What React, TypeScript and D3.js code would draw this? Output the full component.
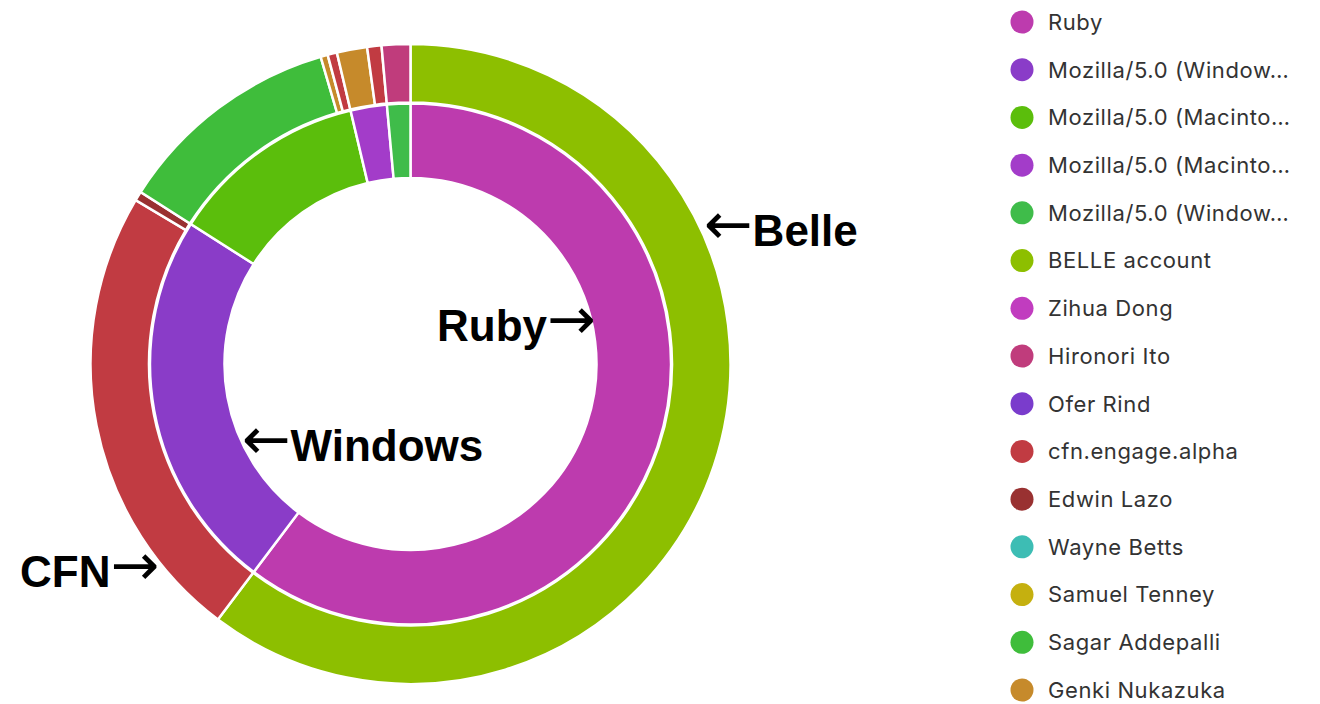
import React from "react";
import * as d3 from "d3";

// Inner ring: user agents
const agentNames = [
  "Ruby",
  "Mozilla/5.0 (Windows) A",
  "Mozilla/5.0 (Macintosh) A",
  "Mozilla/5.0 (Macintosh) B",
  "Mozilla/5.0 (Windows) B",
];
const agentValues = [217, 85.5, 44.2, 8.1, 5.2];

// Outer ring: users per agent (in agent order)
const userNames = [
  "BELLE account",
  "cfn.engage.alpha",
  "Edwin Lazo",
  "Sagar Addepalli",
  "Genki Nukazuka",
  "cfn.engage.alpha",
  "Genki Nukazuka",
  "cfn.engage.alpha",
  "Hironori Ito",
];
const userValues = [217, 83.8, 1.7, 41.2, 1.3, 1.7, 5.5, 2.6, 5.2];

// Legend
const legendKeys = [
  "Ruby",
  "Mozilla/5.0 (Windows) A",
  "Mozilla/5.0 (Macintosh) A",
  "Mozilla/5.0 (Macintosh) B",
  "Mozilla/5.0 (Windows) B",
  "BELLE account",
  "Zihua Dong",
  "Hironori Ito",
  "Ofer Rind",
  "cfn.engage.alpha",
  "Edwin Lazo",
  "Wayne Betts",
  "Samuel Tenney",
  "Sagar Addepalli",
  "Genki Nukazuka",
];
const legendLabels = [
  "Ruby",
  "Mozilla/5.0 (Window\u2026",
  "Mozilla/5.0 (Macinto\u2026",
  "Mozilla/5.0 (Macinto\u2026",
  "Mozilla/5.0 (Window\u2026",
  "BELLE account",
  "Zihua Dong",
  "Hironori Ito",
  "Ofer Rind",
  "cfn.engage.alpha",
  "Edwin Lazo",
  "Wayne Betts",
  "Samuel Tenney",
  "Sagar Addepalli",
  "Genki Nukazuka",
];
const legendColors = [
  "#bd3bae",
  "#8a3cc8",
  "#5bbe0c",
  "#a33cc9",
  "#3fbc4a",
  "#8dbf00",
  "#c13cbf",
  "#c03c7c",
  "#7a3ccc",
  "#c13b42",
  "#993131",
  "#3dbdb4",
  "#c5b00f",
  "#3fbd3b",
  "#c68a2b",
];

// Annotations
const annoWords = ["Belle", "Ruby", "Windows", "CFN"];
const annoArrows = ["\u2190", "\u2192", "\u2190", "\u2192"];
const annoArrowFirst = [true, false, true, false];
const annoX = [704, 437, 242, 20];
const annoY = [246, 341, 461, 587];

const W = 1320;
const H = 704;
const cx = 410.5;
const cy = 364;

const arrowFont = "'DejaVu Sans', sans-serif";
const arrowShift = 2;

export default function App() {
  const color = d3.scaleOrdinal<string, string>().domain(legendKeys).range(legendColors);
  const pie = d3.pie<number>().sort(null).value((d) => d);
  const innerArcs = pie(agentValues);
  const outerArcs = pie(userValues);
  const innerArc = d3.arc<d3.PieArcDatum<number>>().innerRadius(186).outerRadius(260.5);
  const outerArc = d3.arc<d3.PieArcDatum<number>>().innerRadius(261.5).outerRadius(320);
  const legendY = d3.scaleLinear().domain([0, legendKeys.length - 1]).range([22, 690]);

  return (
    <svg
      width={W}
      height={H}
      style={{ position: "absolute", left: 0, top: 0, background: "#fff" }}
    >
      <g transform={`translate(${cx},${cy})`}>
        {outerArcs.map((a, i) => (
          <path
            key={"o" + i}
            d={outerArc(a) || ""}
            fill={color(userNames[i])}
            stroke="#fff"
            strokeWidth={2.5}
          />
        ))}
        {innerArcs.map((a, i) => (
          <path
            key={"i" + i}
            d={innerArc(a) || ""}
            fill={color(agentNames[i])}
            stroke="#fff"
            strokeWidth={2.5}
          />
        ))}
      </g>
      {annoWords.map((t, i) => {
        const first = annoArrowFirst[i];
        const arrow = (
          <tspan
            fontFamily={arrowFont}
            fontWeight="normal"
            fontSize={58}
            dy={-arrowShift}
          >
            {annoArrows[i]}
          </tspan>
        );
        return (
          <text
            key={"a" + i}
            x={annoX[i]}
            y={annoY[i]}
            fontFamily="'Liberation Sans', Arial, sans-serif"
            fontWeight="bold"
            fontSize={44}
            fill="#000"
          >
            {first ? arrow : null}
            <tspan dy={first ? arrowShift : 0}>{t}</tspan>
            {first ? null : arrow}
          </text>
        );
      })}
      {legendKeys.map((k, i) => (
        <g key={"l" + i} transform={`translate(1022,${legendY(i)})`}>
          <circle r={11.5} fill={legendColors[i]} />
          <text
            x={26}
            y={0}
            dy="0.36em"
            fontFamily="Inter, 'Noto Sans', sans-serif"
            fontSize={22}
            letterSpacing={0.6}
            fill="#333"
          >
            {legendLabels[i]}
          </text>
        </g>
      ))}
    </svg>
  );
}
